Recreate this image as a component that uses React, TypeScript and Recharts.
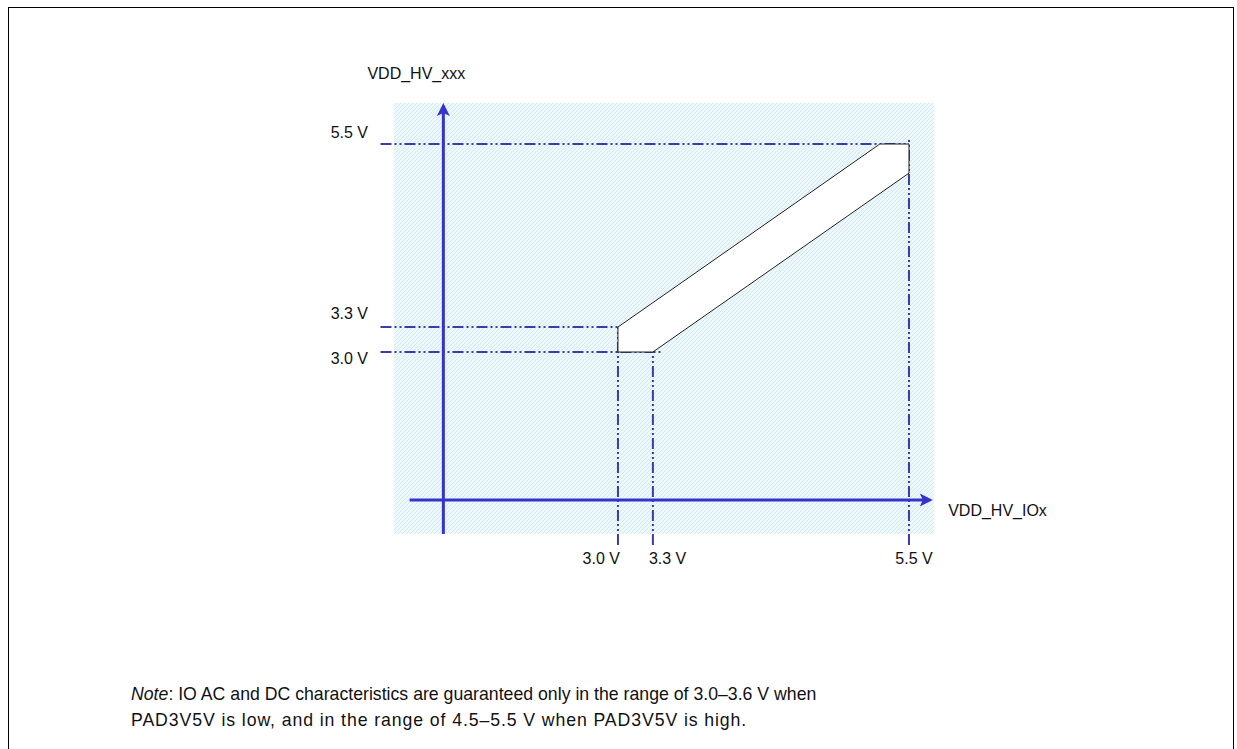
import React from 'react';
import { ComposedChart, XAxis, YAxis, Scatter, ReferenceLine, ReferenceArea } from 'recharts';

// supply levels marked on the two axes (V)
const ioxTicks = [3.0, 3.3, 5.5];
const xxxTicks = [3.0, 3.3, 5.5];

// how far each dash-dot guide runs (V)
const hGuideEnd = [3.39, 3.39, 5.5];
const vGuideTop = [3.3, 3.3, 5.58];

// corners of the allowed VDD_HV_IOx / VDD_HV_xxx region, in drawing order
const regionIox = [3.0, 3.0, 3.3, 5.5, 5.5, 5.25];
const regionXxx = [3.3, 3.0, 3.0, 5.15, 5.5, 5.5];

const W = 1237;
const H = 749;
const XMIN = 1.076;
const XMAX = 5.715;
const YMIN = 0.8125;
const YMAX = 5.993;
const AXIS_X = 1.5; // where the vertical arrow sits
const AXIS_Y = 1.22; // where the horizontal arrow sits
const GUIDE_LEFT = 0.96;
const GUIDE_BOTTOM = 0.68;

const BLUE = '#3434cc';
const DASH_BLUE = '#3b3bab';
const DASH = '11 3 2 3 2 3';
const FONT = 'Arial, "Liberation Sans", sans-serif';

const regionData = regionIox.map((x, i) => ({ x, y: regionXxx[i] }));

const YTick = (props: any) => {
  const { x, y, payload } = props;
  const v = payload.value as number;
  return (
    <text x={x - 26} y={y + (v === 3.0 ? 12 : v === 3.3 ? -8 : -6)} textAnchor="end" fontSize={16} fill="#111" fontFamily={FONT}>
      {v.toFixed(1)} V
    </text>
  );
};

const XTick = (props: any) => {
  const { x, y, payload } = props;
  const v = payload.value as number;
  const anchor = v === 3.0 ? 'end' : v === 3.3 ? 'start' : 'middle';
  const dx = v === 3.0 ? 2 : v === 3.3 ? -4 : 5;
  return (
    <text x={x + dx} y={y + 30} textAnchor={anchor} fontSize={16} fill="#111" fontFamily={FONT}>
      {v.toFixed(1)} V
    </text>
  );
};

const regionShape = (props: any) => {
  const pts = (props.points || []) as { x: number; y: number }[];
  if (!pts.length) return <g />;
  const d = pts.map((p, i) => `${i ? 'L' : 'M'}${p.x},${p.y}`).join(' ') + ' Z';
  return <path d={d} fill="#ffffff" stroke="#222" strokeWidth={1} />;
};

const upArrow = (props: any) => {
  const { cx, cy } = props;
  return <path d={`M${cx},${cy} L${cx - 6.5},${cy + 13} L${cx},${cy + 10} L${cx + 6.5},${cy + 13} Z`} fill={BLUE} />;
};

const rightArrow = (props: any) => {
  const { cx, cy } = props;
  return <path d={`M${cx},${cy} L${cx - 13},${cy - 6.5} L${cx - 10},${cy} L${cx - 13},${cy + 6.5} Z`} fill={BLUE} />;
};

const yTitle = (props: any) => {
  const vb = props.viewBox;
  return (
    <text x={vb.x - 27} y={vb.y - 28} textAnchor="middle" fontSize={16} fill="#111" fontFamily={FONT}>
      VDD_HV_xxx
    </text>
  );
};

const xTitle = (props: any) => {
  const vb = props.viewBox;
  return (
    <text x={vb.x + vb.width + 20} y={vb.y + 16} textAnchor="start" fontSize={16} fill="#111" fontFamily={FONT}>
      VDD_HV_IOx
    </text>
  );
};

export default function App() {
  return (
    <div style={{ position: 'absolute', left: 0, top: 0, width: W, height: H, overflow: 'hidden', background: '#fff', fontFamily: FONT }}>
      <div style={{ position: 'absolute', left: 8, top: 7, width: 1226, height: 800, border: '1.5px solid #000', boxSizing: 'border-box' }} />
      <div style={{ position: 'absolute', left: 0, top: 0 }}>
        <ComposedChart width={W} height={H} margin={{ top: 103, right: 303, bottom: 185, left: 330 }}>
          <defs>
            <pattern id="hatch" width={4} height={4} patternUnits="userSpaceOnUse">
              <rect width={4} height={4} fill="#eef8fa" />
              <path d="M-1,1 L1,-1 M0,4 L4,0 M3,5 L5,3" stroke="#d2ebf0" strokeWidth={1} />
            </pattern>
          </defs>
          <XAxis
            type="number"
            dataKey="x"
            domain={[XMIN, XMAX]}
            allowDataOverflow
            ticks={ioxTicks}
            interval={0}
            height={30}
            axisLine={false}
            tickLine={false}
            tickSize={0}
            tickMargin={0}
            tick={<XTick />}
          />
          <YAxis
            type="number"
            dataKey="y"
            domain={[YMIN, YMAX]}
            allowDataOverflow
            ticks={xxxTicks}
            interval={0}
            width={64}
            axisLine={false}
            tickLine={false}
            tickSize={0}
            tickMargin={0}
            tick={<YTick />}
          />
          <ReferenceArea x1={XMIN} x2={XMAX} y1={YMIN} y2={YMAX} fill="url(#hatch)" fillOpacity={1} stroke="none" ifOverflow="visible" />
          <Scatter
            data={regionData}
            isAnimationActive={false}
            line={regionShape}
            lineType="joint"
            shape={() => <g />}
          />
          {xxxTicks.map((v, i) => (
            <ReferenceLine
              key={'h' + v}
              segment={[{ x: GUIDE_LEFT, y: v }, { x: hGuideEnd[i], y: v }]}
              stroke={DASH_BLUE}
              strokeWidth={2}
              strokeDasharray={DASH}
              ifOverflow="visible"
            />
          ))}
          {ioxTicks.map((v, i) => (
            <ReferenceLine
              key={'v' + v}
              segment={[{ x: v, y: GUIDE_BOTTOM }, { x: v, y: vGuideTop[i] }]}
              stroke={DASH_BLUE}
              strokeWidth={2}
              strokeDasharray={DASH}
              ifOverflow="visible"
            />
          ))}
          <ReferenceLine
            segment={[{ x: AXIS_X, y: YMIN }, { x: AXIS_X, y: YMAX - 0.05 }]}
            stroke={BLUE}
            strokeWidth={3}
            ifOverflow="visible"
            label={yTitle}
          />
          <ReferenceLine
            segment={[{ x: 1.21, y: AXIS_Y }, { x: XMAX - 0.05, y: AXIS_Y }]}
            stroke={BLUE}
            strokeWidth={3}
            ifOverflow="visible"
            label={xTitle}
          />
          <Scatter data={[{ x: AXIS_X, y: YMAX }]} isAnimationActive={false} shape={upArrow} />
          <Scatter data={[{ x: XMAX - 0.01, y: AXIS_Y }]} isAnimationActive={false} shape={rightArrow} />
        </ComposedChart>
      </div>
      <div style={{ position: 'absolute', left: 131, top: 681, fontSize: 17.7, lineHeight: '26px', color: '#111', whiteSpace: 'nowrap' }}>
        <div>
          <i>Note</i>: IO AC and DC characteristics are guaranteed only in the range of 3.0–3.6 V when
        </div>
        <div style={{ letterSpacing: '0.9px' }}>PAD3V5V is low, and in the range of 4.5–5.5 V when PAD3V5V is high.</div>
      </div>
    </div>
  );
}
